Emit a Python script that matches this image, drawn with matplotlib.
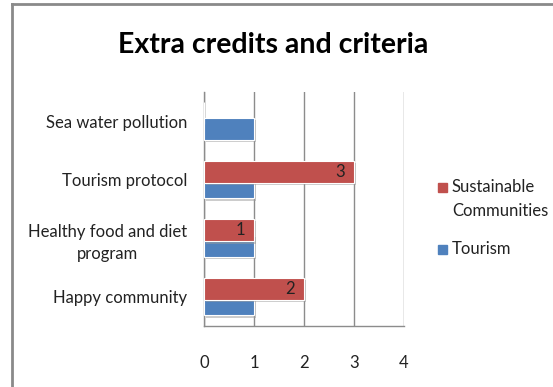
import matplotlib
matplotlib.use("Agg")
import matplotlib.pyplot as plt
import matplotlib.patheffects as pe
from matplotlib.lines import Line2D
import numpy as np

categories = ["Happy community", "Healthy food and diet\nprogram", "Tourism protocol", "Sea water pollution"]
sustainable = [2, 1, 3, 0]
tourism = [1, 1, 1, 1]
series_names = ["Sustainable\nCommunities", "Tourism"]
x_ticks = [0, 1, 2, 3, 4]

RED = "#C0504D"
BLUE = "#4F81BD"
FONT = "Lato"

fig = plt.figure(figsize=(5.53, 3.87), dpi=100)
ax = fig.add_axes([204 / 553, 61 / 387, 200 / 553, 234 / 387])

y = np.arange(len(categories))
h = 0.38
shadow = [pe.SimplePatchShadow(offset=(1.5, -1.5), shadow_rgbFace="#9a9a9a", alpha=0.5), pe.Normal()]

bt = ax.barh(y - 0.13, tourism, height=h, color=BLUE, edgecolor="white", linewidth=0.8, zorder=3)
br = ax.barh(y + 0.135, sustainable, height=h, color=RED, edgecolor="white", linewidth=0.8, zorder=4)
for b in list(bt) + list(br):
    b.set_path_effects(shadow)

for yi, v in zip(y, sustainable):
    if v > 0:
        ax.annotate(str(v), xy=(v, yi + 0.135), xytext=(-10, 0), textcoords="offset points",
                    ha="center", va="center", fontsize=12, family=FONT, color="#222222", zorder=5)

ax.set_xlim(0, 4)
ax.set_ylim(-0.5, 3.5)
ax.set_xticks(x_ticks)
ax.set_xticklabels([str(t) for t in x_ticks], family=FONT, fontsize=12)
ax.set_yticks(y)
ax.set_yticklabels(categories, family=FONT, fontsize=12, linespacing=1.5)
for lab in ax.get_yticklabels():
    lab.set_multialignment("center")
ax.tick_params(axis="both", length=0, colors="#222222")
ax.tick_params(axis="x", pad=21)
ax.tick_params(axis="y", pad=12)
ax.grid(axis="x", color="#8c8c8c", linewidth=1.0, zorder=0)
for s in ["top", "right"]:
    ax.spines[s].set_visible(False)
for s in ["left", "bottom"]:
    ax.spines[s].set_color("#8c8c8c")
    ax.spines[s].set_linewidth(1.0)

fig.text(273 / 553, 1 - 45 / 387, "Extra credits and criteria", ha="center", va="center",
         family=FONT, fontweight="bold", fontsize=20.5, color="black")

# legend drawn as square markers plus text
legend_rows = [(series_names[0], RED, 187), (series_names[1], BLUE, 249.5)]
for name, color, ypx in legend_rows:
    fig.patches.append(plt.Rectangle((438 / 553, 1 - (ypx + 4.5) / 387), 9 / 553, 9 / 387,
                                     transform=fig.transFigure, color=color, figure=fig))
    for i, line in enumerate(name.split("\n")):
        fig.text(452 / 553, 1 - (ypx + 24 * i) / 387, line, ha="left", va="center",
                 family=FONT, fontsize=12, color="#222222")

# outer frame (left and top edges)
fig.add_artist(Line2D([11.5 / 553, 11.5 / 553], [0, 1 - 4 / 387], transform=fig.transFigure,
                      color="#8a8a8a", linewidth=2))
fig.add_artist(Line2D([11.5 / 553, 1], [1 - 4 / 387, 1 - 4 / 387], transform=fig.transFigure,
                      color="#8a8a8a", linewidth=2))

fig.savefig("out.png", dpi=100)
